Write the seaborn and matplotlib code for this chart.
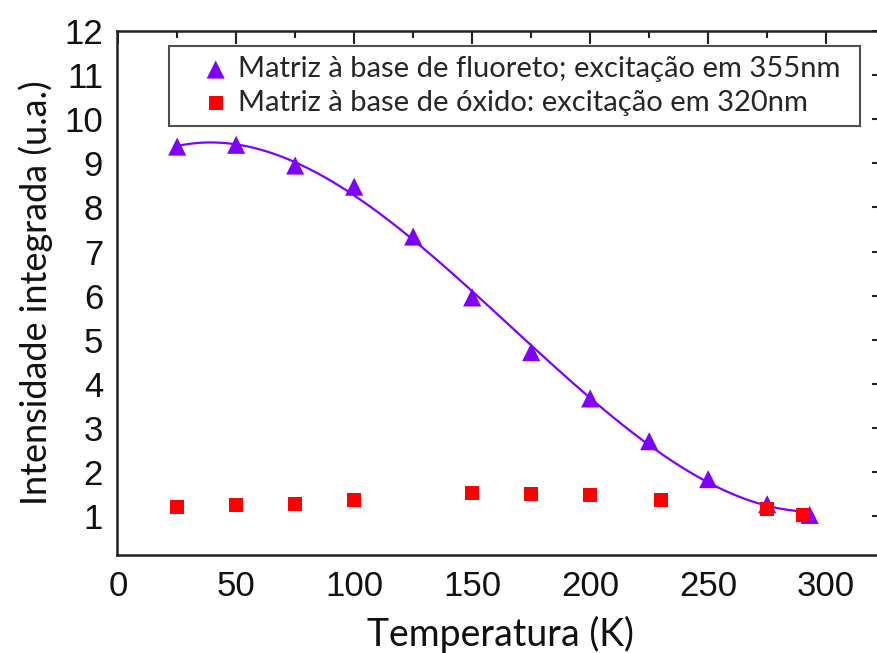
import numpy as np
import pandas as pd
import matplotlib
matplotlib.use("Agg")
import matplotlib.pyplot as plt
from matplotlib.ticker import MultipleLocator
from matplotlib import font_manager
import seaborn as sns

# Integrated intensity vs temperature for the two host matrices
temp_fluoreto = [25, 50, 75, 100, 125, 150, 175, 200, 225, 250, 275, 293]
int_fluoreto = [9.38, 9.42, 8.95, 8.47, 7.34, 5.96, 4.72, 3.67, 2.70, 1.84, 1.27, 1.03]

temp_oxido = [25, 50, 75, 100, 150, 175, 200, 230, 275, 290]
int_oxido = [1.21, 1.25, 1.28, 1.37, 1.53, 1.50, 1.48, 1.37, 1.16, 1.03]

label_fluoreto = "Matriz à base de fluoreto; excitação em 355nm"
label_oxido = "Matriz à base de óxido: excitação em 320nm"

x_ticks = [0, 50, 100, 150, 200, 250, 300]
y_ticks = list(range(1, 13))

sns.set_theme(style="white")

available = {f.name for f in font_manager.fontManager.ttflist}
tick_family = "Liberation Sans Narrow" if "Liberation Sans Narrow" in available else "Liberation Sans"
text_family = ["Lato", "DejaVu Sans"]
plt.rcParams["font.family"] = text_family

purple = "#7F00FF"
red = "#FF0000"

df_f = pd.DataFrame({"T": temp_fluoreto, "I": int_fluoreto})
df_o = pd.DataFrame({"T": temp_oxido, "I": int_oxido})

# Smooth cubic fit through the fluoride-matrix points
coef = np.polyfit(df_f["T"], df_f["I"], 3)
t_fit = np.linspace(min(temp_fluoreto), max(temp_fluoreto), 300)
df_fit = pd.DataFrame({"T": t_fit, "I": np.polyval(coef, t_fit)})

W, H = 878, 653
left_px, right_px, top_px, bottom_px = 117, 884, 31, 555
fig = plt.figure(figsize=(W / 100, H / 100), dpi=100)
ax = fig.add_axes([left_px / W, 1 - bottom_px / H,
                   (right_px - left_px) / W, (bottom_px - top_px) / H])

sns.lineplot(data=df_fit, x="T", y="I", ax=ax, color=purple, linewidth=1.6, zorder=2)
sns.scatterplot(data=df_f, x="T", y="I", ax=ax, marker="^", s=170, color=purple,
                edgecolor="none", label=label_fluoreto, zorder=3)
sns.scatterplot(data=df_o, x="T", y="I", ax=ax, marker="s", s=100, color=red,
                edgecolor="none", label=label_oxido, zorder=3)

ax.set_xlim(-0.5, 324.5)
ax.set_ylim(0.12, 12)
ax.set_xticks(x_ticks)
ax.set_yticks(y_ticks)
ax.xaxis.set_minor_locator(MultipleLocator(25))
ax.yaxis.set_minor_locator(MultipleLocator(0.5))

ax.tick_params(which="both", direction="in", top=True, right=True, colors="#222222",
               width=1.5)
ax.tick_params(which="major", length=9)
ax.tick_params(which="minor", length=5)
ax.tick_params(axis="x", which="major", pad=11)
ax.tick_params(axis="y", which="major", pad=10)
for lbl in ax.get_xticklabels() + ax.get_yticklabels():
    lbl.set_fontfamily(tick_family)
    lbl.set_fontsize(25)
    lbl.set_color("#111111")

for side in ["left", "right", "top", "bottom"]:
    ax.spines[side].set_visible(True)
    ax.spines[side].set_color("#222222")
    ax.spines[side].set_linewidth(1.8)

ax.set_xlabel("Temperatura (K)", fontsize=27, color="#111111", labelpad=9)
ax.set_ylabel("Intensidade integrada (u.a.)", fontsize=26, color="#111111", labelpad=8)

ax_w = right_px - left_px
ax_h = bottom_px - top_px
leg = ax.legend(loc="upper left",
                bbox_to_anchor=((169 - left_px) / ax_w, (bottom_px - 46) / ax_h,
                                (860 - 169) / ax_w, 0),
                mode="expand", fontsize=21, frameon=True, fancybox=False,
                borderpad=0.35, handlelength=2.5, handletextpad=-0.5,
                labelspacing=0.25, borderaxespad=0)
leg.get_frame().set_edgecolor("#222222")
leg.get_frame().set_linewidth(1.5)

fig.savefig("out.png", dpi=100)
